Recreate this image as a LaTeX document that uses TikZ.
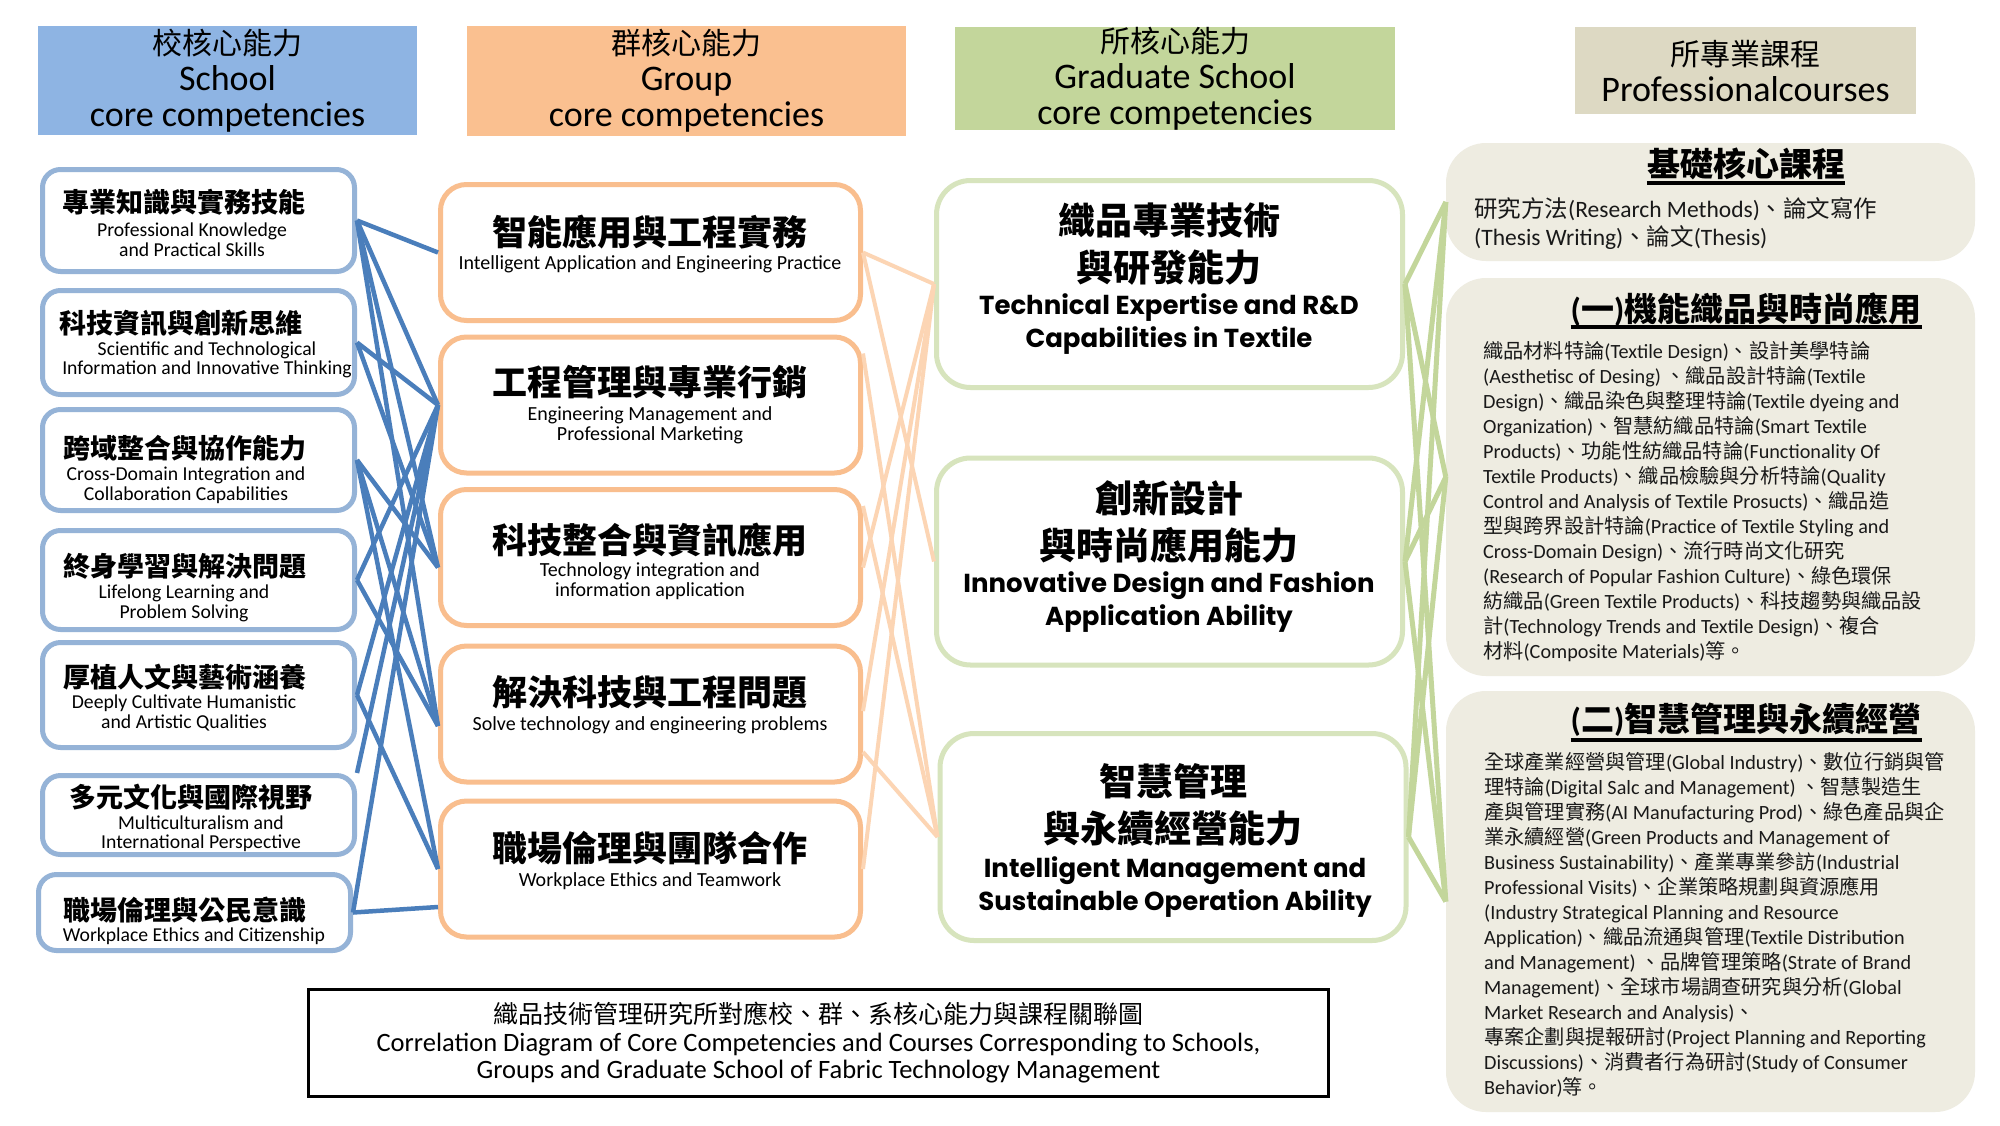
\documentclass[tikz,border=0pt]{standalone}
\usepackage{fontspec}
\setmainfont{Carlito}
\newfontfamily\cjkfont{Noto Sans CJK TC}
\newfontfamily\gfont{Poppins}
\newXeTeXintercharclass\cjkclass
\newcount\cjkc
\cjkc="3000\relax
\loop
  \XeTeXcharclass\cjkc=\cjkclass
  \advance\cjkc by 1\relax
\ifnum\cjkc<"A000\relax\repeat
\XeTeXinterchartoks 0 \cjkclass = {\begingroup\cjkfont}
\XeTeXinterchartoks 4095 \cjkclass = {\begingroup\cjkfont}
\XeTeXinterchartoks \cjkclass 0 = {\endgroup}
\XeTeXinterchartoks \cjkclass 4095 = {\endgroup}
\XeTeXinterchartokenstate=1
\definecolor{hblue}{HTML}{8EB4E3}
\definecolor{horange}{HTML}{FAC090}
\definecolor{hgreen}{HTML}{C3D69B}
\definecolor{hgray}{HTML}{DDD9C3}
\definecolor{lbord}{HTML}{95B3D7}
\definecolor{obord}{HTML}{F9BE8E}
\definecolor{gbord}{HTML}{D7E4BD}
\definecolor{gfill}{HTML}{EEECE1}
\definecolor{bconn}{HTML}{4A7EBB}
\definecolor{oconn}{HTML}{FCD5B4}
\definecolor{gconn}{HTML}{C3D69B}
\begin{document}
\begin{tikzpicture}[x=1pt,y=-1pt,
  hdr/.style={inner sep=0pt, align=center, font=\fontsize{36}{36}\selectfont},
  lbox/.style={draw=lbord, line width=5pt, rounded corners=18pt, minimum width=312pt, inner sep=0pt},
  obox/.style={draw=obord, line width=5pt, rounded corners=26pt, minimum width=420pt, minimum height=136pt, inner sep=0pt},
  gbox/.style={draw=gbord, line width=5pt, rounded corners=34pt, minimum width=466pt, minimum height=207pt, inner sep=0pt},
  cbox/.style={fill=gfill, rounded corners=40pt, minimum width=529pt, inner sep=0pt},
  lcn/.style={inner sep=0pt, font=\fontsize{27}{27}\selectfont\bfseries},
  len/.style={inner sep=0pt, align=center, font=\fontsize{19.7}{19.5}\selectfont},
  ocn/.style={inner sep=0pt, font=\fontsize{35}{35}\selectfont\bfseries},
  oen/.style={inner sep=0pt, align=center, font=\fontsize{20}{20}\selectfont},
  gcn/.style={inner sep=0pt, align=center, font=\fontsize{37}{47}\selectfont\bfseries},
  gen/.style={inner sep=0pt, align=center, font=\fontsize{26}{33}\selectfont\gfont\bfseries},
  ctitle/.style={inner sep=0pt, font=\fontsize{33}{33}\selectfont\bfseries},
  cbody/.style={inner sep=0pt, align=left, anchor=north west, text=black!90, font=\fontsize{20.2}{25}\selectfont},
  bl/.style={draw=bconn, line width=4.5pt},
  ol/.style={draw=oconn, line width=4pt},
  gl/.style={draw=gconn, line width=5pt},
  uline/.style={line width=3.5pt}
]
\useasboundingbox[fill=white] (0,0) rectangle (2000,1125);

% headers
\node[hdr, fill=hblue, minimum width=379pt, minimum height=109pt] (H1) at (227.5,80.5)
  {{\fontsize{30}{36}\selectfont 校核心能力}\\School\\core competencies};
\node[hdr, fill=horange, minimum width=439pt, minimum height=110pt] (H2) at (686.5,81)
  {{\fontsize{30}{36}\selectfont 群核心能力}\\Group\\core competencies};
\node[hdr, fill=hgreen, minimum width=440pt, minimum height=103pt] (H3) at (1175,78.5)
  {{\fontsize{30}{36}\selectfont 所核心能力}\\Graduate School\\core competencies};
\node[hdr, fill=hgray, minimum width=341pt, minimum height=87pt] (H4) at (1745.5,70.5)
  {{\fontsize{30}{36}\selectfont 所專業課程}\\Professionalcourses};

% left column boxes
\node[lbox, minimum height=102pt] (L1) at (198.5,220.5) {};
\node[lbox, minimum height=104pt] (L2) at (198.5,342.5) {};
\node[lbox, minimum height=101pt] (L3) at (198.5,460) {};
\node[lbox, minimum height=99pt] (L4) at (198.5,580) {};
\node[lbox, minimum height=105pt] (L5) at (198.5,695) {};
\node[lbox, minimum height=79pt] (L6) at (198.5,815) {};
\node[lbox, minimum height=76pt] (L7) at (194.5,912.5) {};

\node[lcn] (L1c) at (184,202) {專業知識與實務技能};
\node[len] (L1e) at (192,239.5) {Professional Knowledge\\and Practical Skills};
\node[lcn] (L2c) at (181,323) {科技資訊與創新思維};
\node[len] (L2e) at (207,360) {Scientific and Technological\\Information and Innovative Thinking};
\node[lcn] (L3c) at (185,448) {跨域整合與協作能力};
\node[len] (L3e) at (186,485) {Cross-Domain Integration and\\Collaboration Capabilities};
\node[lcn] (L4c) at (185,566) {終身學習與解決問題};
\node[len] (L4e) at (184,603.5) {Lifelong Learning and\\Problem Solving};
\node[lcn] (L5c) at (185,677) {厚植人文與藝術涵養};
\node[len] (L5e) at (184,713) {Deeply Cultivate Humanistic\\and Artistic Qualities};
\node[lcn] (L6c) at (191,797) {多元文化與國際視野};
\node[len] (L6e) at (201,833.5) {Multiculturalism and\\International Perspective};
\node[lcn] (L7c) at (185,910) {職場倫理與公民意識};
\node[len] (L7e) at (194,936) {Workplace Ethics and Citizenship};

% middle column boxes
\node[obox] (M1) at (650.5,252.5) {};
\node[obox] (M2) at (650.5,405) {};
\node[obox] (M3) at (650.5,557.5) {};
\node[obox] (M4) at (650.5,714) {};
\node[obox] (M5) at (650.5,869) {};

\node[ocn] (M1c) at (650,232) {智能應用與工程實務};
\node[oen] (M1e) at (650,264) {Intelligent Application and Engineering Practice};
\node[ocn] (M2c) at (650,382) {工程管理與專業行銷};
\node[oen] (M2e) at (650,425) {Engineering Management and\\Professional Marketing};
\node[ocn] (M3c) at (650,540) {科技整合與資訊應用};
\node[oen] (M3e) at (650,581) {Technology integration and\\information application};
\node[ocn] (M4c) at (650,692) {解決科技與工程問題};
\node[oen] (M4e) at (650,725) {Solve technology and engineering problems};
\node[ocn] (M5c) at (650,848) {職場倫理與團隊合作};
\node[oen] (M5e) at (650,881) {Workplace Ethics and Teamwork};

% graduate school boxes
\node[gbox] (G1) at (1169.5,284) {};
\node[gbox] (G2) at (1169.5,561.5) {};
\node[gbox] (G3) at (1173,837) {};

\node[gcn] (G1c) at (1169,244) {織品專業技術\\與研發能力};
\node[gen] (G1e) at (1169,324) {Technical Expertise and R\&D\\Capabilities in Textile};
\node[gcn] (G2c) at (1169,522) {創新設計\\與時尚應用能力};
\node[gen] (G2e) at (1169,602.5) {Innovative Design and Fashion\\Application Ability};
\node[gcn] (G3c) at (1173,805) {智慧管理\\與永續經營能力};
\node[gen] (G3e) at (1175,887) {Intelligent Management and\\Sustainable Operation Ability};

% course boxes
\node[cbox, minimum height=118pt] (R1) at (1710.5,202) {};
\node[cbox, minimum height=398pt] (R2) at (1710.5,477) {};
\node[cbox, minimum height=421pt] (R3) at (1710.5,901.5) {};

\node[ctitle] (R1t) at (1746,164) {基礎核心課程};
\draw[uline] ([yshift=-19pt]R1t.west) -- ([yshift=-19pt]R1t.east);
\node[cbody, font=\fontsize{23.5}{28}\selectfont] (R1b) at (1474,197) {研究方法(Research Methods)、論文寫作\\(Thesis Writing)、論文(Thesis)};

\node[ctitle] (R2t) at (1746,310) {(一)機能織品與時尚應用};
\draw[uline] ([yshift=-17pt]R2t.west) -- ([yshift=-17pt]R2t.east);
\node[cbody] (R2b) at (1483,341) {織品材料特論(Textile Design)、設計美學特論\\
(Aesthetisc of Desing) 、織品設計特論(Textile\\
Design)、織品染色與整理特論(Textile dyeing and\\
Organization)、智慧紡織品特論(Smart Textile\\
Products)、功能性紡織品特論(Functionality Of\\
Textile Products)、織品檢驗與分析特論(Quality\\
Control and Analysis of Textile Prosucts)、織品造\\
型與跨界設計特論(Practice of Textile Styling and\\
Cross-Domain Design)、流行時尚文化研究\\
(Research of Popular Fashion Culture)、綠色環保\\
紡織品(Green Textile Products)、科技趨勢與織品設\\
計(Technology Trends and Textile Design)、複合\\
材料(Composite Materials)等。};

\node[ctitle] (R3t) at (1746,720) {(二)智慧管理與永續經營};
\draw[uline] ([yshift=-20pt]R3t.west) -- ([yshift=-20pt]R3t.east);
\node[cbody] (R3b) at (1484,752) {全球產業經營與管理(Global Industry)、數位行銷與管\\
理特論(Digital Salc and Management) 、智慧製造生\\
產與管理實務(AI Manufacturing Prod)、綠色產品與企\\
業永續經營(Green Products and Management of\\
Business Sustainability)、產業專業參訪(Industrial\\
Professional Visits)、企業策略規劃與資源應用\\
(Industry Strategical Planning and Resource\\
Application)、織品流通與管理(Textile Distribution\\
and Management) 、品牌管理策略(Strate of Brand\\
Management)、全球市場調查研究與分析(Global\\
Market Research and Analysis)、\\
專案企劃與提報研討(Project Planning and Reporting\\
Discussions)、消費者行為研討(Study of Consumer\\
Behavior)等。};

% bottom title
\node[draw=black, line width=3.5pt, minimum width=1020pt, minimum height=107pt, align=center, inner sep=0pt,
  font=\fontsize{26.5}{27.5}\selectfont] (T) at (818.5,1043)
  {{\fontsize{25}{27.5}\selectfont 織品技術管理研究所對應校、群、系核心能力與課程關聯圖}\\
   Correlation Diagram of Core Competencies and Courses Corresponding to Schools,\\
   Groups and Graduate School of Fabric Technology Management};

% blue connectors
\draw[bl] (L1.east) -- (M1.west);
\draw[bl] (L1.east) -- (M2.west);
\draw[bl] (L1.east) -- ([yshift=-10pt]M3.west);
\draw[bl] (L1.east) -- ([yshift=-12pt]M4.west);
\draw[bl] (L2.east) -- (M2.west);
\draw[bl] (L2.east) -- ([yshift=-10pt]M3.west);
\draw[bl] (L3.east) -- ([yshift=-10pt]M3.west);
\draw[bl] (L3.east) -- ([yshift=-12pt]M4.west);
\draw[bl] (L3.east) -- (M5.west);
\draw[bl] (L4.east) -- (M2.west);
\draw[bl] (L4.east) -- ([yshift=-12pt]M4.west);
\draw[bl] (L5.east) -- (M2.west);
\draw[bl] (L5.east) -- (M5.west);
\draw[bl] (L6.north east) -- (M2.west);
\draw[bl] (L7.east) -- (M2.west);
\draw[bl] (L7.east) -- ([yshift=-38pt]M5.west);

% orange connectors
\draw[ol] (M1.east) -- (G1.west);
\draw[ol] (M1.east) -- (G2.west);
\draw[ol] ([yshift=-19pt]M2.north east) -- (G3.west);
\draw[ol] ([yshift=-19pt]M3.north east) -- (G3.west);
\draw[ol] ([yshift=-10pt]M3.east) -- (G1.west);
\draw[ol] ([yshift=3pt]M4.east) -- (G1.west);
\draw[ol] ([yshift=-38pt]M4.east) -- (G3.west);
\draw[ol] (M5.east) -- (G1.west);

% green connectors
\draw[gl] (G1.east) -- (R1.west);
\draw[gl] (G1.east) -- (R2.west);
\draw[gl] (G1.east) -- (R3.west);
\draw[gl] (G2.east) -- (R1.west);
\draw[gl] (G2.east) -- (R2.west);
\draw[gl] (G2.east) -- (R3.west);
\draw[gl] (G3.east) -- (R1.west);
\draw[gl] (G3.east) -- (R2.west);
\draw[gl] (G3.east) -- (R3.west);
\end{tikzpicture}
\end{document}
